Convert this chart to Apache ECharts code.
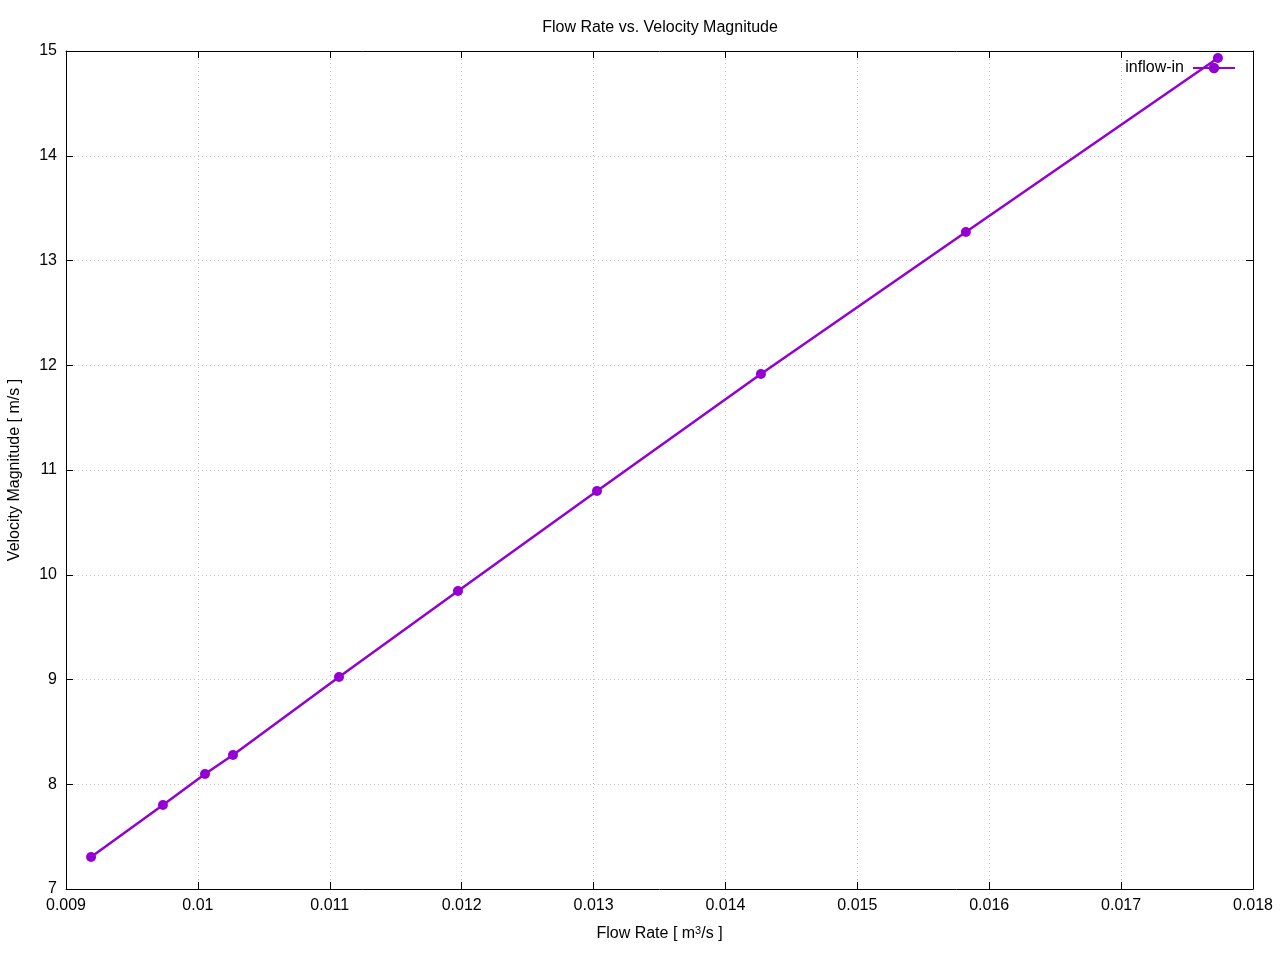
<!DOCTYPE html>
<html><head><meta charset="utf-8">
<script src="https://cdn.jsdelivr.net/npm/echarts@6/dist/echarts.min.js"></script>
<style>html,body{margin:0;padding:0;background:#fff}#c{width:1280px;height:960px}</style>
</head><body><div id="c"></div>
<script>
const flowRate = [0.00919, 0.009735, 0.010054, 0.010266, 0.011070, 0.011972, 0.013026, 0.014269, 0.015823, 0.017734];
const velocity = [7.305, 7.802, 8.098, 8.279, 9.024, 9.845, 10.800, 11.916, 13.272, 14.933];
const seriesName = 'inflow-in';
const xTicks = {min: 0.009, max: 0.018, interval: 0.001};
const yTicks = {min: 7, max: 15, interval: 1};

const font = 'Liberation Sans, Arial, sans-serif';
const color = '#9400D3';
const chart = echarts.init(document.getElementById('c'));
const data = flowRate.map((x, i) => [x, velocity[i]]);
const axLine = {show: true, lineStyle: {color: '#000', width: 1}};
const tick = {show: true, inside: true, length: 7, lineStyle: {color: '#000'}};
chart.setOption({
  animation: false,
  title: {text: 'Flow Rate vs. Velocity Magnitude', left: 655, textAlign: 'center', top: 15,
    textStyle: {fontFamily: font, fontSize: 16, fontWeight: 'normal', color: '#000'}},
  legend: {right: 39, top: 55, align: 'right', itemWidth: 42, itemHeight: 13, itemGap: 0,
    textStyle: {fontFamily: font, fontSize: 16, color: '#000', padding: [0, 4, 0, 0]}, data: [seriesName]},
  grid: {left: 66, right: 27, top: 51, bottom: 71, containLabel: false, outerBoundsMode: 'none'},
  xAxis: [{type: 'value', min: xTicks.min, max: xTicks.max, interval: xTicks.interval,
    axisLine: axLine, axisTick: tick,
    axisLabel: {fontFamily: font, fontSize: 16, color: '#000', margin: 9,
      formatter: v => parseFloat(v.toFixed(4)).toString()},
    splitLine: {show: true, lineStyle: {color: '#c8c8c8', type: [1, 3], width: 1}},
    name: '{a|Flow Rate [ m}{s|3}{a|/s ]}', nameLocation: 'middle', nameGap: 36,
    nameTextStyle: {rich: {a: {fontFamily: font, fontSize: 16, color: '#000'},
      s: {fontFamily: font, fontSize: 11, color: '#000', verticalAlign: 'top', padding: [0, 0, 7, 0]}}}},
   {type: 'value', position: 'top', min: xTicks.min, max: xTicks.max, interval: xTicks.interval,
    axisLine: axLine, axisTick: tick, axisLabel: {show: false}, splitLine: {show: false}}],
  yAxis: [{type: 'value', min: yTicks.min, max: yTicks.max, interval: yTicks.interval,
    axisLine: axLine, axisTick: tick,
    axisLabel: {fontFamily: font, fontSize: 16, color: '#000', margin: 9},
    splitLine: {show: true, lineStyle: {color: '#c8c8c8', type: [1, 3], width: 1}},
    name: 'Velocity Magnitude [ m/s ]', nameLocation: 'middle', nameGap: 43,
    nameTextStyle: {fontFamily: font, fontSize: 16, color: '#000'}},
   {type: 'value', position: 'right', min: yTicks.min, max: yTicks.max, interval: yTicks.interval,
    axisLine: axLine, axisTick: tick, axisLabel: {show: false}, splitLine: {show: false}}],
  series: [{name: seriesName, type: 'line', data: data, color: color,
    symbol: 'circle', symbolSize: 10, showSymbol: true,
    lineStyle: {width: 2.5, color: color}, itemStyle: {color: color}}]
});
</script></body></html>
